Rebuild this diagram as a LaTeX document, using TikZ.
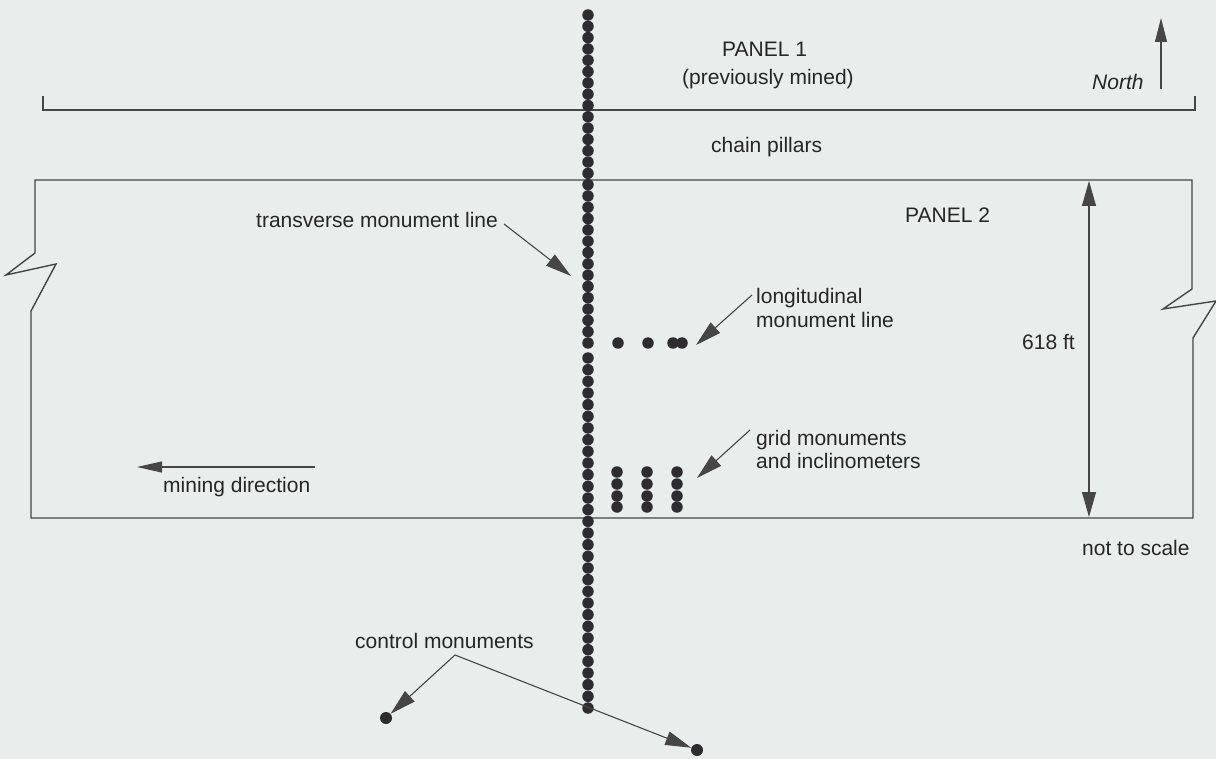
\documentclass[tikz,border=0pt]{standalone}
\usepackage{fontspec}
\setmainfont{Liberation Sans}
\usetikzlibrary{arrows.meta}
\definecolor{bg}{RGB}{233,237,235}
\definecolor{ln}{RGB}{70,70,70}
\definecolor{dotc}{RGB}{45,45,48}
\begin{document}
\begin{tikzpicture}[x=1pt,y=-1pt,
  lbl/.style={inner sep=0pt,font=\fontsize{21}{25}\selectfont,text=black!85},
  edge/.style={draw=ln,line width=1.4pt},
  conn/.style={draw=ln,line width=1.1pt,-{Triangle[length=26pt,width=14pt]}},
  mon/.style={circle,fill=dotc,inner sep=0pt,minimum size=11.5pt}]
\fill[bg] (0,0) rectangle (1216,759);
\useasboundingbox (0,0) rectangle (1216,759);
% panel 1 boundary
\draw[edge] (43,96) -- (43,110) -- (1195,110) -- (1195,96);
% panel 2 outline with break lines
\draw[edge,line join=miter] (31,518) -- (1193,518) -- (1193,338) -- (1216,301) -- (1163,309) -- (1192,289) -- (1192,180)
  -- (35,180) -- (35,253) -- (6,275) -- (56,264) -- (31,311) -- cycle;
% labels
\node[lbl,anchor=west] (p1) at (722,49) {PANEL 1};
\node[lbl] (pm) at (768,79) {(previously mined)};
\node[lbl,anchor=west,font=\fontsize{21}{25}\selectfont\itshape] (north) at (1092,82) {North};
\node[lbl,anchor=west] (cp) at (711,147) {chain pillars};
\node[lbl,anchor=west] (p2) at (905,215) {PANEL 2};
\node[lbl,anchor=west] (tml) at (256,220) {transverse monument line};
\node[lbl,anchor=west] (lml1) at (756,298) {longitudinal};
\node[lbl,anchor=west] (lml2) at (756,320) {monument line};
\node[lbl,anchor=west] (ft) at (1022,342) {618 ft};
\node[lbl,anchor=west] (gm1) at (756,440) {grid monuments};
\node[lbl,anchor=west] (gm2) at (756,461) {and inclinometers};
\node[lbl,anchor=west] (md) at (163,487) {mining direction};
\node[lbl,anchor=west] (nts) at (1082,548) {not to scale};
\node[lbl,anchor=west] (cm) at (355,641) {control monuments};
% transverse monument line
\foreach \i in {0,...,29} \node[mon] (t\i) at (588,{15+\i*328/29}) {};
\foreach \i in {0,...,30} \node[mon] (b\i) at (588,{358+\i*350/30}) {};
% longitudinal monuments
\node[mon] (l1) at (618,343) {};
\node[mon] (l2) at (648,343) {};
\node[mon] (l3) at (673,343) {};
\node[mon] (l4) at (682,343) {};
% grid monuments
\foreach \c/\x in {1/617,2/647,3/677}
  \foreach \r/\y in {1/472,2/484,3/496,4/507}
    \node[mon] (g\c\r) at (\x,\y) {};
% control monuments
\node[mon,minimum size=12pt] (cmL) at (386,718) {};
\node[mon,minimum size=12pt] (cmR) at (697,750) {};
% connectors
\coordinate (tmlA) at (504,224);
\coordinate (tmlB) at (571,276);
\draw[conn] (tmlA) -- (tmlB);
\coordinate (lmlA) at (752,295);
\coordinate (lmlB) at (696,345);
\draw[conn] (lmlA) -- (lmlB);
\coordinate (gmA) at (750,430);
\coordinate (gmB) at (697,478);
\draw[conn] (gmA) -- (gmB);
\coordinate (dimT) at (1089,181);
\coordinate (dimB) at (1089,517);
\draw[edge,line width=1.1pt,{Triangle[length=25pt,width=14pt]}-{Triangle[length=25pt,width=14pt]}] (dimT) -- (dimB);
\coordinate (mdA) at (315,467);
\coordinate (mdB) at (137,467);
\draw[edge,line width=1.1pt,-{Triangle[length=25pt,width=11pt]}] (mdA) -- (mdB);
\coordinate (nA) at (1161,89);
\coordinate (nB) at (1161,18);
\draw[edge,line width=1.1pt,-{Triangle[length=24pt,width=12pt]}] (nA) -- (nB);
\coordinate (apex) at (455,655);
\draw[conn] (apex) -- (cmL);
\draw[conn] (apex) -- (cmR);
\end{tikzpicture}
\end{document}
